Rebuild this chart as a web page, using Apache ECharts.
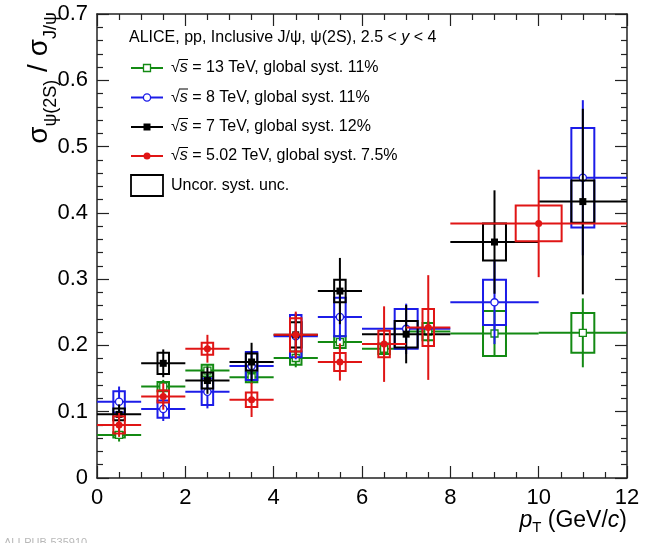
<!DOCTYPE html>
<html>
<head>
<meta charset="utf-8">
<script src="https://cdn.jsdelivr.net/npm/echarts@6.0.0/dist/echarts.min.js"></script>
<style>
  html, body { margin: 0; padding: 0; background: #fff; }
  #main { width: 656px; height: 543px; }
</style>
</head>
<body>
<div id="main"></div>
<script>
// psi(2S)/J/psi ratio vs pT, four energies
var FONT = '"Liberation Sans", Arial, Helvetica, sans-serif';

// 13 TeV
var ptLo13 = [0, 1, 2, 3, 4, 5, 6, 7, 8, 10];
var ptHi13 = [1, 2, 3, 4, 5, 6, 7, 8, 10, 12];
var ratio13 = [0.065, 0.138, 0.162, 0.152, 0.181, 0.205, 0.195, 0.221, 0.218, 0.219];
var stat13 = [0.010, 0.010, 0.010, 0.010, 0.014, 0.013, 0.014, 0.016, 0.034, 0.052];
var syst13 = [0.004, 0.007, 0.009, 0.0075, 0.010, 0.009, 0.008, 0.013, 0.034, 0.030];

// 8 TeV
var ptLo8 = [0, 1, 2, 3, 4, 5, 6, 8, 10];
var ptHi8 = [1, 2, 3, 4, 5, 6, 8, 10, 12];
var ratio8 = [0.115, 0.104, 0.130, 0.169, 0.214, 0.243, 0.225, 0.265, 0.453];
var stat8 = [0.023, 0.018, 0.025, 0.022, 0.035, 0.036, 0.038, 0.063, 0.117];
var syst8 = [0.016, 0.013, 0.020, 0.021, 0.032, 0.029, 0.030, 0.034, 0.075];

// 7 TeV
var ptLo7 = [0, 1, 2, 3, 4, 5, 6, 8, 10];
var ptHi7 = [1, 2, 3, 4, 5, 6, 8, 10, 12];
var ratio7 = [0.096, 0.173, 0.147, 0.175, 0.216, 0.282, 0.217, 0.356, 0.417];
var stat7 = [0.015, 0.021, 0.020, 0.029, 0.030, 0.050, 0.044, 0.078, 0.140];
var syst7 = [0.009, 0.016, 0.012, 0.013, 0.019, 0.017, 0.020, 0.028, 0.032];

// 5.02 TeV
var ptLo5 = [0, 1, 2, 3, 4, 5, 6, 7, 8];
var ptHi5 = [1, 2, 3, 4, 5, 6, 7, 8, 12];
var ratio5 = [0.080, 0.123, 0.195, 0.118, 0.216, 0.175, 0.202, 0.227, 0.384];
var stat5 = [0.018, 0.020, 0.021, 0.026, 0.035, 0.028, 0.057, 0.079, 0.081];
var syst5 = [0.013, 0.009, 0.009, 0.011, 0.025, 0.0135, 0.020, 0.028, 0.027];

var GREEN = '#138a13', BLUE = '#1c1ce8', BLACK = '#000000', RED = '#e01515';

function makeRows(lo, hi, y, st, sy) {
    var rows = [];
    for (var i = 0; i < y.length; i++) {
        rows.push([(lo[i] + hi[i]) / 2, lo[i], hi[i], y[i], st[i], sy[i]]);
    }
    return rows;
}

function markerShape(kind, cx, cy, color) {
    if (kind === 'openSquare') {
        return {type: 'rect', shape: {x: cx - 3.5, y: cy - 3.5, width: 7, height: 7},
            style: {fill: '#fff', stroke: color, lineWidth: 1.3}};
    }
    if (kind === 'openCircle') {
        return {type: 'circle', shape: {cx: cx, cy: cy, r: 3.6},
            style: {fill: '#fff', stroke: color, lineWidth: 1.3}};
    }
    if (kind === 'fullSquare') {
        return {type: 'rect', shape: {x: cx - 3.5, y: cy - 3.5, width: 7, height: 7},
            style: {fill: color}};
    }
    return {type: 'circle', shape: {cx: cx, cy: cy, r: 3.5}, style: {fill: color}};
}

function errSeries(name, rows, color, marker, z) {
    return {
        type: 'custom',
        name: name,
        z: z,
        data: rows,
        encode: {x: [1, 2], y: 3},
        renderItem: function (params, api) {
            var x = api.value(0), lo = api.value(1), hi = api.value(2);
            var y = api.value(3), st = api.value(4), sy = api.value(5);
            var hw = (hi - lo) * 0.26 / 2;
            var c = api.coord([x, y]);
            var l = api.coord([lo, y]), r = api.coord([hi, y]);
            var t = api.coord([x, y + st]), b = api.coord([x, y - st]);
            var b1 = api.coord([x - hw, y + sy]), b2 = api.coord([x + hw, y - sy]);
            var line = {stroke: color, lineWidth: 2};
            return {
                type: 'group',
                children: [
                    {type: 'rect', shape: {x: b1[0], y: b1[1], width: b2[0] - b1[0], height: b2[1] - b1[1]},
                        style: {fill: null, stroke: color, lineWidth: 2}},
                    {type: 'line', shape: {x1: l[0], y1: c[1], x2: r[0], y2: c[1]}, style: line},
                    {type: 'line', shape: {x1: c[0], y1: t[1], x2: c[0], y2: b[1]}, style: line},
                    markerShape(marker, c[0], c[1], color)
                ]
            };
        }
    };
}

var entries = [
    {color: GREEN, marker: 'openSquare', label: ' = 13 TeV, global syst. 11%'},
    {color: BLUE, marker: 'openCircle', label: ' = 8 TeV, global syst. 11%'},
    {color: BLACK, marker: 'fullSquare', label: ' = 7 TeV, global syst. 12%'},
    {color: RED, marker: 'fullCircle', label: ' = 5.02 TeV, global syst. 7.5%'}
];

var textRich = {
    n: {fontSize: 16, fontFamily: FONT, color: '#000'},
    i: {fontSize: 16, fontFamily: FONT, fontStyle: 'italic', color: '#000'}
};

var graphics = [];
graphics.push({type: 'text', x: 129, y: 38,
    style: {text: '{n|ALICE, pp, Inclusive J/ψ, ψ(2S), 2.5 < }{i|y}{n| < 4}', rich: textRich,
        textVerticalAlign: 'middle'}});
var legendY = [68, 97.5, 127, 156];
for (var k = 0; k < entries.length; k++) {
    var e = entries[k], cy = legendY[k];
    graphics.push({type: 'line', shape: {x1: 131, y1: cy, x2: 163, y2: cy}, style: {stroke: e.color, lineWidth: 2}});
    graphics.push(markerShape(e.marker, 147, cy, e.color));
    graphics.push({type: 'text', x: 171, y: cy,
        style: {text: '{n|√}{i|s}{n|' + e.label + '}', rich: textRich, textVerticalAlign: 'middle'}});
    graphics.push({type: 'line', shape: {x1: 179, y1: cy - 8.5, x2: 188, y2: cy - 8.5}, style: {stroke: '#000', lineWidth: 1}});
}
graphics.push({type: 'rect', shape: {x: 131, y: 175, width: 32, height: 21}, style: {fill: null, stroke: '#000', lineWidth: 1.8}});
graphics.push({type: 'text', x: 171, y: 185.5,
    style: {text: '{n|Uncor. syst. unc.}', rich: textRich, textVerticalAlign: 'middle'}});

// axis titles
graphics.push({type: 'text', x: 39, y: 78, rotation: Math.PI / 2,
    style: {text: '{m|σ}{s|ψ(2S)}{m| / σ}{s|J/ψ}',
        rich: {m: {fontSize: 28, fontFamily: FONT, color: '#000'},
               s: {fontSize: 18, fontFamily: FONT, color: '#000', padding: [24, 0, 0, 0]}},
        textAlign: 'center', textVerticalAlign: 'middle'}});
graphics.push({type: 'text', x: 627, y: 521,
    style: {text: '{i|p}{s|T}{n| (GeV/}{i|c}{n|)}',
        rich: {i: {fontSize: 23, fontFamily: FONT, fontStyle: 'italic', color: '#000'},
               n: {fontSize: 23, fontFamily: FONT, color: '#000'},
               s: {fontSize: 15, fontFamily: FONT, color: '#000', padding: [14, 0, 0, 0]}},
        textAlign: 'right', textVerticalAlign: 'middle'}});
graphics.push({type: 'text', x: 4, y: 537,
    style: {text: 'ALI-PUB-535910', fontSize: 11, fontFamily: FONT, fill: '#b8b8b8', textVerticalAlign: 'top'}});

function frameAxis(pos, show, min, max, interval, minorSplit) {
    return {
        type: 'value', position: pos, min: min, max: max, interval: interval,
        axisLine: {show: true, onZero: false, lineStyle: {color: '#222', width: 1.5}},
        axisTick: {show: true, inside: false, length: -12, lineStyle: {color: '#222', width: 1.2}},
        minorTick: {show: true, splitNumber: minorSplit, length: -6, lineStyle: {color: '#222', width: 1.2}},
        splitLine: {show: false},
        axisLabel: {show: show, color: '#000', fontSize: 22, fontFamily: FONT, margin: 9,
            formatter: function (v) {
                if (interval < 1) { return v === 0 ? '0' : v.toFixed(1); }
                return String(v);
            }}
    };
}

var chart = echarts.init(document.getElementById('main'));
chart.setOption({
    backgroundColor: '#fff',
    animation: false,
    grid: {left: 97, right: 29, top: 14, bottom: 65},
    xAxis: [frameAxis('bottom', true, 0, 12, 2, 4), frameAxis('top', false, 0, 12, 2, 4)],
    yAxis: [frameAxis('left', true, 0, 0.7, 0.1, 5), frameAxis('right', false, 0, 0.7, 0.1, 5)],
    graphic: graphics,
    series: [
        errSeries('13 TeV', makeRows(ptLo13, ptHi13, ratio13, stat13, syst13), GREEN, 'openSquare', 2),
        errSeries('8 TeV', makeRows(ptLo8, ptHi8, ratio8, stat8, syst8), BLUE, 'openCircle', 3),
        errSeries('7 TeV', makeRows(ptLo7, ptHi7, ratio7, stat7, syst7), BLACK, 'fullSquare', 4),
        errSeries('5.02 TeV', makeRows(ptLo5, ptHi5, ratio5, stat5, syst5), RED, 'fullCircle', 5)
    ]
});
</script>
</body>
</html>
